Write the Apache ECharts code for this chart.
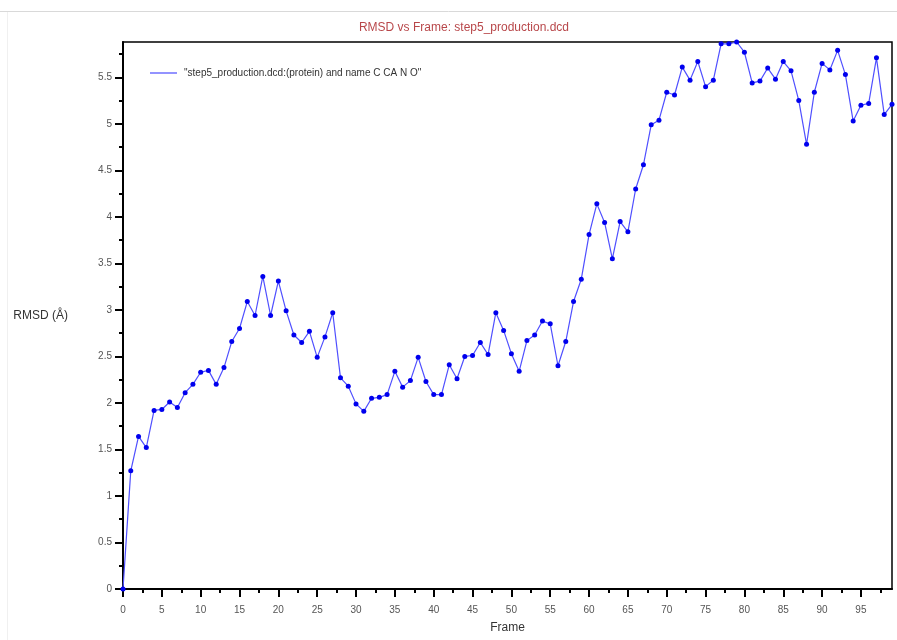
<!DOCTYPE html>
<html>
<head>
<meta charset="utf-8">
<script src="https://cdn.jsdelivr.net/npm/echarts@6/dist/echarts.min.js"></script>
<style>html,body{margin:0;padding:0;background:#fff;}#c{width:897px;height:640px;}</style>
</head>
<body>
<div id="c"></div>
<script>
const titleText = 'RMSD vs Frame: step5_production.dcd';
const seriesName = '"step5_production.dcd:(protein) and name C CA N O"';
const xName = 'Frame';
const yName = 'RMSD (Å)';
const frames = Array.from({length: 100}, (_, i) => i);
const rmsd = [
  0, 1.27, 1.64, 1.52, 1.92, 1.93, 2.01, 1.95, 2.11, 2.20,
  2.33, 2.35, 2.20, 2.38, 2.66, 2.80, 3.09, 2.94, 3.36, 2.94,
  3.31, 2.99, 2.73, 2.65, 2.77, 2.49, 2.71, 2.97, 2.27, 2.18,
  1.99, 1.91, 2.05, 2.06, 2.09, 2.34, 2.17, 2.24, 2.49, 2.23,
  2.09, 2.09, 2.41, 2.26, 2.50, 2.51, 2.65, 2.52, 2.97, 2.78,
  2.53, 2.34, 2.67, 2.73, 2.88, 2.85, 2.40, 2.66, 3.09, 3.33,
  3.81, 4.14, 3.94, 3.55, 3.95, 3.84, 4.30, 4.56, 4.99, 5.04,
  5.34, 5.31, 5.61, 5.47, 5.67, 5.40, 5.47, 5.86, 5.86, 5.88,
  5.77, 5.44, 5.46, 5.60, 5.48, 5.67, 5.57, 5.25, 4.78, 5.34,
  5.65, 5.58, 5.79, 5.53, 5.03, 5.20, 5.22, 5.71, 5.10, 5.21
];
const xMin = 0, xMax = 99, xInterval = 5;
const yMin = 0, yMax = 5.88, yInterval = 0.5;
const xTicks = [0, 5, 10, 15, 20, 25, 30, 35, 40, 45, 50, 55, 60, 65, 70, 75, 80, 85, 90, 95];
const yTicks = [0, 0.5, 1, 1.5, 2, 2.5, 3, 3.5, 4, 4.5, 5, 5.5];

const font = '"Liberation Sans", Arial, sans-serif';
const chart = echarts.init(document.getElementById('c'), null, {renderer: 'canvas'});
chart.setOption({
  animation: false,
  backgroundColor: '#fff',
  title: {
    text: titleText,
    left: 459, top: 17, textAlign: 'center',
    textStyle: {fontFamily: font, fontSize: 12, fontWeight: 'normal', color: '#b8474a'}
  },
  legend: {
    left: 145, top: 63,
    icon: 'rect', itemWidth: 27, itemHeight: 1.5, itemGap: 10,
    textStyle: {fontFamily: font, fontSize: 10, color: '#333', padding: [0, 0, 0, 2]},
    data: [{name: seriesName, itemStyle: {color: '#6f6fff'}}]
  },
  grid: {
    left: 123, right: 5, top: 42, bottom: 51,
    show: true, borderColor: '#000', borderWidth: 1.5, backgroundColor: 'transparent'
  },
  xAxis: {
    type: 'value', min: xMin, max: xMax, interval: xInterval,
    name: xName, nameLocation: 'middle', nameGap: 33,
    nameTextStyle: {fontFamily: font, fontSize: 12, color: '#333'},
    axisLine: {show: true, onZero: false, lineStyle: {color: '#000', width: 2}},
    axisTick: {show: true, inside: false, length: 8, customValues: xTicks, lineStyle: {color: '#000', width: 2}},
    minorTick: {show: true, splitNumber: 2, length: 4, lineStyle: {color: '#000', width: 2}},
    axisLabel: {fontFamily: font, fontSize: 10, color: '#555', margin: 16, customValues: xTicks},
    splitLine: {show: false}
  },
  yAxis: {
    type: 'value', min: yMin, max: yMax, interval: yInterval,
    name: yName, nameLocation: 'middle', nameGap: 55, nameRotate: 0,
    nameTextStyle: {fontFamily: font, fontSize: 12, color: '#333'},
    axisLine: {show: true, onZero: false, lineStyle: {color: '#000', width: 2}},
    axisTick: {show: true, inside: false, length: 8, customValues: yTicks, lineStyle: {color: '#000', width: 2}},
    minorTick: {show: true, splitNumber: 2, length: 4, lineStyle: {color: '#000', width: 2}},
    axisLabel: {fontFamily: font, fontSize: 10, color: '#555', margin: 11, customValues: yTicks},
    splitLine: {show: false}
  },
  graphic: [
    {type: 'line', shape: {x1: 0, y1: 11.5, x2: 897, y2: 11.5}, style: {stroke: '#d9d9d9', lineWidth: 1}, silent: true},
    {type: 'line', shape: {x1: 7.5, y1: 12, x2: 7.5, y2: 640}, style: {stroke: '#f0f0f0', lineWidth: 1}, silent: true}
  ],
  series: [{
    name: seriesName,
    type: 'line',
    data: frames.map((f, i) => [f, rmsd[i]]),
    symbol: 'circle', symbolSize: 5,
    showAllSymbol: true,
    lineStyle: {color: '#4f4fff', width: 1.2},
    itemStyle: {color: '#0000ee'},
    clip: false
  }]
});
</script>
</body>
</html>
